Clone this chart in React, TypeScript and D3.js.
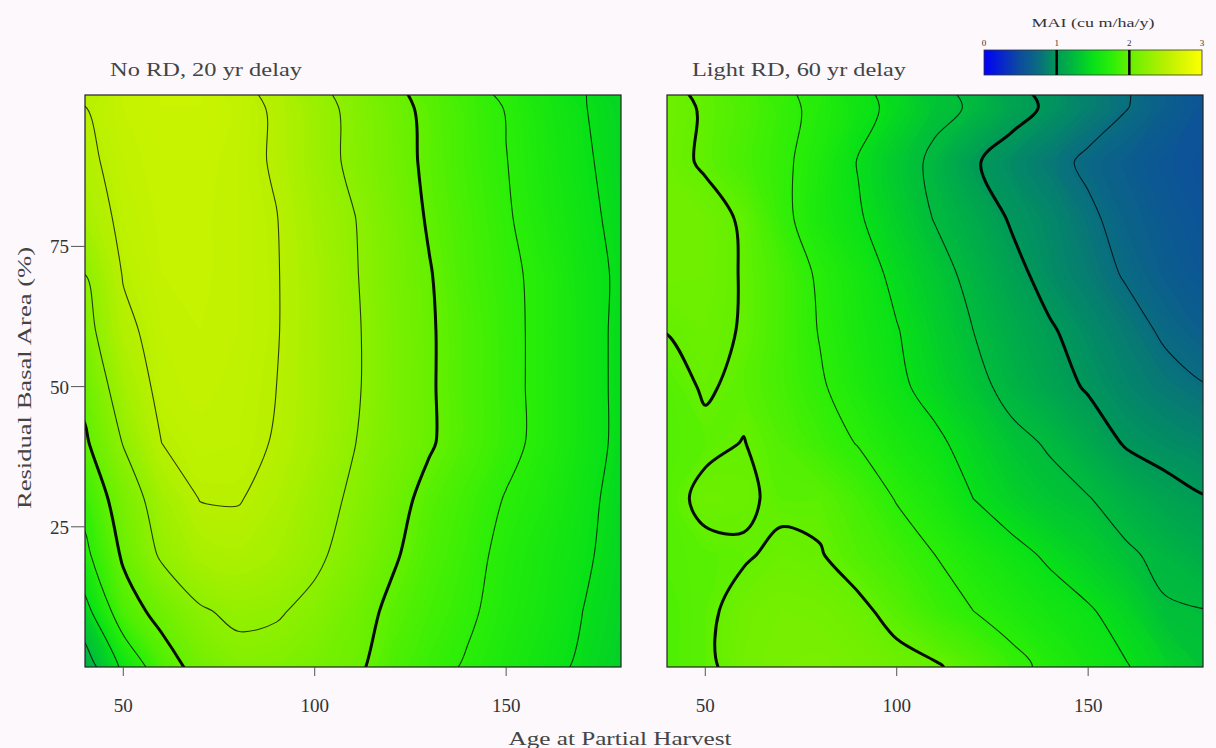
import React, { useEffect, useRef } from 'react'
import * as d3 from 'd3'

// grid the MAI surfaces are sampled on
const ages = [40, 50, 60, 70, 80, 90, 100, 110, 120, 130, 140, 150, 160, 170, 180]
const basalAreas = [0, 10, 20, 30, 40, 50, 60, 70, 80, 90, 100]

// MAI (cu m/ha/y), one row per residual basal area, 0% first
const noRdMai = [
  [1.12, 1.55, 1.89, 2.08, 2.18, 2.17, 2.11, 2.05, 1.90, 1.81, 1.73, 1.64, 1.56, 1.47, 1.38],
  [1.42, 1.90, 2.07, 2.23, 2.29, 2.27, 2.20, 2.09, 1.96, 1.86, 1.78, 1.68, 1.60, 1.50, 1.41],
  [1.70, 2.03, 2.28, 2.40, 2.43, 2.38, 2.29, 2.17, 2.03, 1.90, 1.81, 1.70, 1.62, 1.53, 1.43],
  [1.82, 2.12, 2.36, 2.505, 2.51, 2.44, 2.33, 2.22, 2.08, 1.94, 1.84, 1.74, 1.66, 1.55, 1.44],
  [1.97, 2.26, 2.50, 2.55, 2.54, 2.49, 2.38, 2.26, 2.13, 2.02, 1.90, 1.80, 1.70, 1.58, 1.46],
  [2.06, 2.37, 2.55, 2.57, 2.55, 2.50, 2.39, 2.28, 2.14, 2.02, 1.90, 1.80, 1.70, 1.58, 1.46],
  [2.17, 2.46, 2.56, 2.58, 2.56, 2.51, 2.39, 2.28, 2.14, 2.02, 1.90, 1.80, 1.70, 1.58, 1.46],
  [2.25, 2.51, 2.58, 2.59, 2.56, 2.51, 2.39, 2.27, 2.13, 2.01, 1.88, 1.79, 1.70, 1.57, 1.47],
  [2.40, 2.54, 2.59, 2.59, 2.56, 2.505, 2.37, 2.26, 2.12, 1.98, 1.87, 1.77, 1.66, 1.55, 1.45],
  [2.46, 2.56, 2.60, 2.60, 2.56, 2.48, 2.34, 2.21, 2.09, 1.96, 1.85, 1.755, 1.64, 1.53, 1.43],
  [2.50, 2.58, 2.62, 2.62, 2.57, 2.47, 2.33, 2.20, 2.07, 1.95, 1.84, 1.74, 1.62, 1.51, 1.42]
]

const lightRdMai = [
  [1.90, 1.96, 2.08, 2.12, 2.13, 2.10, 2.06, 2.02, 1.93, 1.81, 1.70, 1.60, 1.51, 1.40, 1.30],
  [1.90, 1.96, 2.07, 2.10, 2.09, 2.04, 1.94, 1.83, 1.75, 1.67, 1.59, 1.52, 1.42, 1.27, 1.255],
  [1.93, 1.95, 1.98, 2.04, 2.01, 1.92, 1.84, 1.75, 1.65, 1.56, 1.47, 1.38, 1.28, 1.20, 1.13],
  [1.93, 2.05, 2.03, 1.96, 1.96, 1.86, 1.74, 1.64, 1.50, 1.40, 1.31, 1.26, 1.16, 1.07, 1.01],
  [1.93, 1.96, 2.005, 1.92, 1.83, 1.74, 1.63, 1.54, 1.42, 1.30, 1.23, 1.11, 0.98, 0.93, 0.89],
  [1.93, 2.02, 1.96, 1.87, 1.77, 1.66, 1.54, 1.43, 1.31, 1.19, 1.08, 0.98, 0.89, 0.82, 0.76],
  [2.005, 2.04, 1.99, 1.87, 1.74, 1.62, 1.51, 1.38, 1.25, 1.13, 1.02, 0.92, 0.83, 0.72, 0.64],
  [2.07, 2.06, 1.99, 1.87, 1.72, 1.60, 1.45, 1.33, 1.19, 1.06, 0.93, 0.84, 0.73, 0.63, 0.58],
  [2.08, 2.06, 1.98, 1.80, 1.64, 1.52, 1.38, 1.24, 1.12, 0.98, 0.90, 0.79, 0.67, 0.60, 0.55],
  [2.05, 1.98, 1.88, 1.79, 1.66, 1.49, 1.34, 1.21, 1.02, 0.92, 0.82, 0.71, 0.63, 0.57, 0.53],
  [2.06, 1.98, 1.90, 1.80, 1.70, 1.56, 1.45, 1.30, 1.23, 1.07, 0.97, 0.86, 0.76, 0.64, 0.56]
]

const ageTicks = [50, 100, 150]
const basalTicks = [25, 50, 75]
const legendTicks = [0, 1, 2, 3]
const lineLevels = [0.25, 0.5, 0.75, 1, 1.25, 1.5, 1.75, 2, 2.25, 2.5, 2.75]

const maiStops = [0, 0.5, 0.75, 1, 1.25, 1.5, 1.75, 2, 2.5, 3]
const maiColors = ['#0000f8', '#0d4d9d', '#0a6c80', '#009a58', '#00bc3c', '#08e018', '#2aee08', '#64f000', '#b8f000', '#ffff00']

const W = 1216
const H = 748
const top = 95
const bottom = 667

export default function App() {
  const ref = useRef(null)

  useEffect(() => {
    const svg = d3.select(ref.current)
    svg.selectAll('*').remove()

    const color = d3.scaleLinear().domain(maiStops).range(maiColors).clamp(true)
    const y = d3.scaleLinear().domain([0, 102]).range([bottom, top])
    const gx = d3.scaleLinear().domain([0.5, ages.length - 0.5]).range([ages[0], ages[ages.length - 1]])
    const gy = d3.scaleLinear().domain([0.5, basalAreas.length - 0.5]).range([basalAreas[0], basalAreas[basalAreas.length - 1]])
    const line = d3.line().curve(d3.curveCatmullRomClosed.alpha(0.5))

    svg.append('rect').attr('width', W).attr('height', H).attr('fill', '#fcf8fc')

    const panels = [
      { id: 'a', title: 'No RD, 20 yr delay', data: noRdMai, x0: 85, x1: 621, titleLen: 192, yAxis: true },
      { id: 'b', title: 'Light RD, 60 yr delay', data: lightRdMai, x0: 667, x1: 1203, titleLen: 214, yAxis: false }
    ]

    const fillLevels = d3.range(0, 3, 0.02)

    for (const p of panels) {
      const x = d3.scaleLinear().domain([40, 180]).range([p.x0, p.x1])
      const values = p.data.flat()
      const toPath = (mp) => mp.coordinates
        .map(poly => poly.map(ring => line(ring.slice(0, -1).map(([a, b]) => [x(gx(a)), y(gy(b))]))).join(''))
        .join('')

      svg.append('clipPath').attr('id', 'clip-' + p.id)
        .append('rect').attr('x', p.x0).attr('y', top).attr('width', p.x1 - p.x0).attr('height', bottom - top)

      const g = svg.append('g').attr('clip-path', `url(#clip-${p.id})`)

      const bands = d3.contours().size([ages.length, basalAreas.length]).thresholds(fillLevels)(values)
      g.selectAll('path.band').data(bands).join('path')
        .attr('class', 'band')
        .attr('d', toPath)
        .attr('fill', d => color(d.value + 0.01))
        .attr('fill-rule', 'evenodd')

      const lines = d3.contours().size([ages.length, basalAreas.length]).thresholds(lineLevels)(values)
      g.selectAll('path.iso').data(lines).join('path')
        .attr('class', 'iso')
        .attr('d', toPath)
        .attr('fill', 'none')
        .attr('stroke', '#000')
        .attr('stroke-opacity', d => Number.isInteger(d.value) ? 0.95 : 0.75)
        .attr('stroke-width', d => Number.isInteger(d.value) ? 3 : 1.1)

      svg.append('rect').attr('x', p.x0).attr('y', top).attr('width', p.x1 - p.x0).attr('height', bottom - top)
        .attr('fill', 'none').attr('stroke', '#222').attr('stroke-width', 1.2)

      svg.append('text').text(p.title)
        .attr('x', p.x0 + 25).attr('y', 76)
        .attr('textLength', p.titleLen).attr('lengthAdjust', 'spacingAndGlyphs')
        .attr('font-family', 'Liberation Serif, serif').attr('font-size', 19).attr('fill', '#444')

      const xt = svg.append('g')
      xt.selectAll('line').data(ageTicks).join('line')
        .attr('x1', d => x(d)).attr('x2', d => x(d)).attr('y1', bottom).attr('y2', bottom + 9)
        .attr('stroke', '#555').attr('stroke-width', 1)
      xt.selectAll('text').data(ageTicks).join('text')
        .attr('x', d => x(d)).attr('y', 712).attr('text-anchor', 'middle')
        .attr('font-family', 'Liberation Serif, serif').attr('font-size', 19).attr('fill', '#333')
        .text(d => d)

      if (p.yAxis) {
        const yt = svg.append('g')
        yt.selectAll('line').data(basalTicks).join('line')
          .attr('x1', p.x0 - 14).attr('x2', p.x0).attr('y1', d => y(d)).attr('y2', d => y(d))
          .attr('stroke', '#555').attr('stroke-width', 1)
        yt.selectAll('text').data(basalTicks).join('text')
          .attr('x', p.x0 - 16).attr('y', d => y(d) + 7).attr('text-anchor', 'end')
          .attr('font-family', 'Liberation Serif, serif').attr('font-size', 19).attr('fill', '#333')
          .text(d => d)
      }
    }

    svg.append('text').text('Residual Basal Area (%)')
      .attr('transform', 'translate(31,378) rotate(-90)')
      .attr('text-anchor', 'middle').attr('textLength', 262).attr('lengthAdjust', 'spacingAndGlyphs')
      .attr('font-family', 'Liberation Serif, serif').attr('font-size', 19).attr('fill', '#444')

    svg.append('text').text('Age at Partial Harvest')
      .attr('x', 620).attr('y', 745)
      .attr('text-anchor', 'middle').attr('textLength', 223).attr('lengthAdjust', 'spacingAndGlyphs')
      .attr('font-family', 'Liberation Serif, serif').attr('font-size', 19).attr('fill', '#444')

    // colour key
    const lx = d3.scaleLinear().domain([0, 3]).range([984, 1202])
    const grad = svg.append('linearGradient').attr('id', 'mai-grad')
    grad.selectAll('stop').data(maiStops).join('stop')
      .attr('offset', d => d / 3)
      .attr('stop-color', (d, i) => maiColors[i])
    svg.append('rect').attr('x', lx(0)).attr('y', 50).attr('width', lx(3) - lx(0)).attr('height', 25)
      .attr('fill', 'url(#mai-grad)').attr('stroke', '#333').attr('stroke-width', 0.8)
    svg.append('g').selectAll('line').data([1, 2]).join('line')
      .attr('x1', d => lx(d)).attr('x2', d => lx(d)).attr('y1', 50).attr('y2', 75)
      .attr('stroke', '#000').attr('stroke-width', 2.5)
    svg.append('g').selectAll('text').data(legendTicks).join('text')
      .attr('x', d => lx(d)).attr('y', 46).attr('text-anchor', 'middle')
      .attr('font-family', 'Liberation Serif, serif').attr('font-size', 9).attr('fill', '#333')
      .text(d => d)
    svg.append('text').text('MAI (cu m/ha/y)')
      .attr('x', 1093).attr('y', 27).attr('text-anchor', 'middle')
      .attr('textLength', 123).attr('lengthAdjust', 'spacingAndGlyphs')
      .attr('font-family', 'Liberation Serif, serif').attr('font-size', 12).attr('fill', '#333')
  })

  return <svg ref={ref} width={W} height={H} viewBox={`0 0 ${W} ${H}`}
    style={{ position: 'absolute', left: 0, top: 0, display: 'block' }} />
}
